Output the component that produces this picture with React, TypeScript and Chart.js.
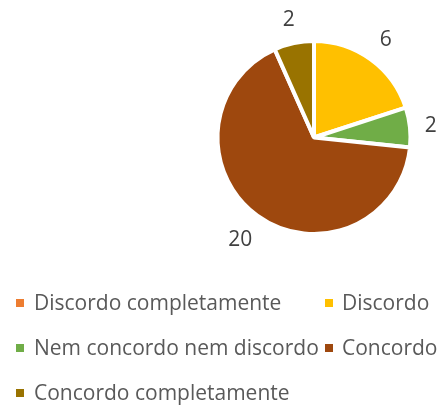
import React, { useEffect, useRef } from "react";
import { Chart, registerables } from "chart.js";

Chart.register(...registerables);

const categories = [
  "Discordo completamente",
  "Discordo",
  "Nem concordo nem discordo",
  "Concordo",
  "Concordo completamente",
];
const values = [0, 6, 2, 20, 2];
const colors = ["#ED7D31", "#FFC000", "#70AD47", "#9E480E", "#997300"];

const FONT = '21px "Open Sans"';

const labelsPlugin = {
  id: "outsideLabels",
  afterDatasetsDraw(chart: any) {
    const ctx = chart.ctx;
    const meta = chart.getDatasetMeta(0);
    ctx.save();
    ctx.font = FONT;
    ctx.fillStyle = "#404040";
    ctx.textAlign = "center";
    ctx.textBaseline = "middle";
    meta.data.forEach((arc: any, i: number) => {
      const v = values[i];
      if (!v) return;
      const p = arc.getProps(["x", "y", "startAngle", "endAngle", "outerRadius"], true);
      const mid = (p.startAngle + p.endAngle) / 2;
      const dx = Math.cos(mid);
      const dy = Math.sin(mid);
      const text = String(v);
      const a = ctx.measureText(text).width / 2;
      const b = 10;
      const r = p.outerRadius - 2 + 16 + Math.abs(dx) * a + Math.abs(dy) * b;
      ctx.fillText(text, p.x + dx * r, p.y + dy * r + 1);
    });
    ctx.restore();
  },
};

const legendPlugin = {
  id: "customLegend",
  afterDraw(chart: any) {
    const ctx = chart.ctx;
    const colBox = [16, 325];
    const colText = [34, 342];
    const rowY = [303, 348, 393];
    ctx.save();
    ctx.font = FONT;
    ctx.textBaseline = "middle";
    ctx.textAlign = "left";
    categories.forEach((c, i) => {
      const col = i % 2;
      const row = Math.floor(i / 2);
      const y = rowY[row];
      ctx.fillStyle = colors[i];
      ctx.fillRect(colBox[col], y - 4, 8, 8);
      ctx.fillStyle = "#595959";
      ctx.fillText(c, colText[col], y + 1);
    });
    ctx.restore();
  },
};

export default function App() {
  const ref = useRef<HTMLCanvasElement | null>(null);
  useEffect(() => {
    if (!ref.current) return;
    const chart = new Chart(ref.current, {
      type: "pie",
      data: {
        labels: categories,
        datasets: [
          {
            data: values,
            backgroundColor: colors,
            borderColor: "#ffffff",
            borderWidth: 4,
            hoverBorderWidth: 4,
          },
        ],
      },
      options: {
        responsive: false,
        animation: false,
        events: [],
        layout: {
          padding: { left: 215.5, right: 25.5, top: 39, bottom: 169 },
        },
        plugins: {
          legend: { display: false },
          tooltip: { enabled: false },
        },
      },
      plugins: [labelsPlugin, legendPlugin],
    });
    return () => chart.destroy();
  }, []);
  return (
    <div style={{ position: "fixed", left: 0, top: 0, width: 438, height: 405, background: "#fff" }}>
      <canvas ref={ref} width={438} height={405} />
    </div>
  );
}
